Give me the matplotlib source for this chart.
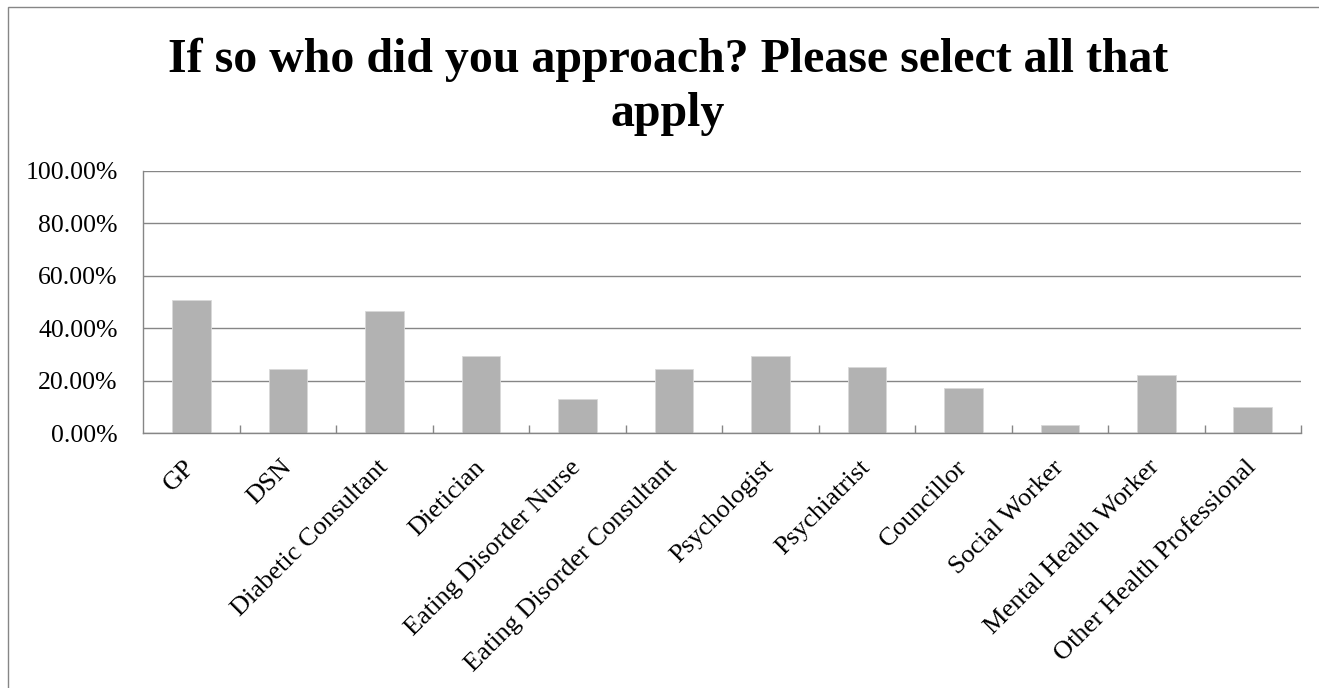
import matplotlib
matplotlib.use("Agg")
import matplotlib.pyplot as plt
from matplotlib.patches import Rectangle
from matplotlib.ticker import FuncFormatter, FixedLocator

categories = [
    "GP", "DSN", "Diabetic Consultant", "Dietician", "Eating Disorder Nurse",
    "Eating Disorder Consultant", "Psychologist", "Psychiatrist", "Councillor",
    "Social Worker", "Mental Health Worker", "Other Health Professional",
]
percentages = [50.8, 24.4, 46.7, 29.5, 13.2, 24.4, 29.5, 25.4, 17.3, 3.0, 22.4, 10.2]
y_ticks = [0, 20, 40, 60, 80, 100]
title_lines = ["If so who did you approach? Please select all that", "apply"]

W, H = 1319, 688
fig = plt.figure(figsize=(W / 100, H / 100), dpi=100)
fig.patch.set_facecolor("white")

serif = ["Liberation Serif", "DejaVu Serif"]
grey = "#868686"

# plot area in pixel coordinates
left, right, top, bottom = 143.3, 1301.0, 171.0, 433.3
ax = fig.add_axes([left / W, 1 - bottom / H, (right - left) / W, (bottom - top) / H])

x = list(range(len(categories)))
ax.bar(x, percentages, width=0.4, color="#b2b2b2", edgecolor="#d9d9d9",
       linewidth=0.6, zorder=3)

ax.set_xlim(-0.5, len(categories) - 0.5)
ax.set_ylim(0, 100)

ax.yaxis.set_major_locator(FixedLocator(y_ticks))
ax.yaxis.set_major_formatter(FuncFormatter(lambda v, p: f"{v:.2f}%"))
ax.grid(axis="y", color=grey, linewidth=1.0, zorder=0)
ax.tick_params(axis="y", length=0, pad=18.5, labelsize=18.5)

ax.set_xticks(x)
ax.set_xticklabels(categories, rotation=45, ha="right", va="center",
                   rotation_mode="anchor", fontsize=19)
ax.set_xticks([i + 0.5 for i in x], minor=True)
ax.tick_params(axis="x", which="major", length=0, pad=22)
ax.tick_params(axis="x", which="minor", direction="in", length=6,
               color=grey, width=1.0)

for lab in ax.get_xticklabels() + ax.get_yticklabels():
    lab.set_fontfamily(serif)
    lab.set_color("black")

for side in ("top", "right"):
    ax.spines[side].set_visible(False)
for side in ("left", "bottom"):
    ax.spines[side].set_color(grey)
    ax.spines[side].set_linewidth(1.0)
    ax.spines[side].set_zorder(4)

# title, two centred lines
fig.text(668 / W, 1 - 71.7 / H, title_lines[0], ha="center", va="baseline",
         fontsize=34.5, fontweight="bold", family=serif)
fig.text(668 / W, 1 - 126 / H, title_lines[1], ha="center", va="baseline",
         fontsize=34.5, fontweight="bold", family=serif)

# chart frame
fig.add_artist(Rectangle((7.5 / W, -0.05), 1.2, 1.05 - 7.5 / H,
                         transform=fig.transFigure, fill=False,
                         edgecolor=grey, linewidth=1.0))

fig.savefig("out.png", dpi=100, facecolor="white")
